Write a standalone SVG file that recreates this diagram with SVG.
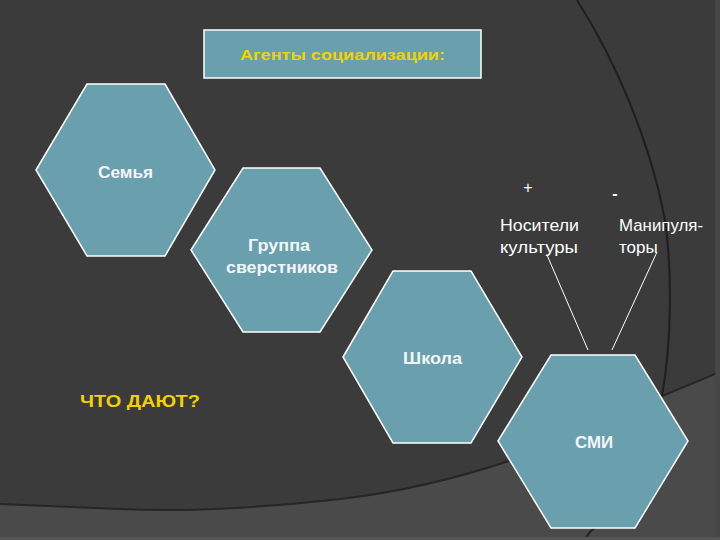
<svg xmlns="http://www.w3.org/2000/svg" width="720" height="540" viewBox="0 0 720 540">
<style>
.hex{fill:#6a9fae;stroke:#ffffff;stroke-width:1.5}
.lbl{font-family:"Liberation Sans",Arial,sans-serif;fill:#f2f6f8;text-anchor:middle}
.b{font-weight:bold}
.yel{font-family:"Liberation Sans",Arial,sans-serif;fill:#f2d200;font-weight:bold;text-anchor:middle}
.wt{font-family:"Liberation Sans",Arial,sans-serif;fill:#ffffff}
.conn{stroke:#ffffff;stroke-width:1;fill:none}
</style>
<g id="background">
<rect x="0" y="0" width="720" height="540" fill="#4a4a4a"/>
<path d="M0,0 H720 V372 L662,396 C620,414 580,435 540,450 C470,476 400,492 340,499 C260,508 180,512 120,509 C70,507 30,505 0,504 Z" fill="#3b3b3b"/>
<path d="M0,504 C30,505 70,507 120,509 C180,512 260,508 340,499 C400,492 470,476 540,450 C580,435 620,414 662,396 L720,372" fill="none" stroke="#262626" stroke-width="2"/>
<path d="M577,0 C615,60 650,140 665,220 C672,270 672,340 662,396" fill="none" stroke="#1f1f1f" stroke-width="2"/>
<path d="M585,540 C588,533 592,529 598,526" fill="none" stroke="#262626" stroke-width="2"/>
<rect x="715" y="0" width="5" height="540" fill="#474747"/>
<rect x="0" y="537" width="720" height="3" fill="#555555"/>
</g>
<g id="title">
<rect x="204" y="30" width="277" height="48" fill="#6a9fae" stroke="#ffffff" stroke-width="1.5"/>
<text class="yel" x="342.5" y="60" font-size="15" textLength="205" lengthAdjust="spacingAndGlyphs">Агенты социализации:</text>
</g>
<g id="connectors">
<line class="conn" x1="547" y1="255" x2="588" y2="350"/>
<line class="conn" x1="657" y1="252" x2="612" y2="350"/>
</g>
<g id="semya">
<polygon class="hex" points="36,170 87,84 165,84 215,170 165,256 87,256"/>
<text class="lbl b" x="125.5" y="178" font-size="16" textLength="55" lengthAdjust="spacingAndGlyphs">Семья</text>
</g>
<g id="gruppa">
<polygon class="hex" points="191,250 243,168 320,168 372,250 320,332 243,332"/>
<text class="lbl b" x="279" y="251" font-size="16" textLength="62" lengthAdjust="spacingAndGlyphs">Группа</text>
<text class="lbl b" x="282" y="273" font-size="16" textLength="112" lengthAdjust="spacingAndGlyphs">сверстников</text>
</g>
<g id="shkola">
<polygon class="hex" points="343,357 393,271 471,271 522,357 471,443 393,443"/>
<text class="lbl b" x="432.5" y="364" font-size="17" textLength="59" lengthAdjust="spacingAndGlyphs">Школа</text>
</g>
<g id="smi">
<polygon class="hex" points="498,441 551,355 635,355 688,441 635,528 551,528"/>
<text class="lbl b" x="594" y="448" font-size="16" textLength="38" lengthAdjust="spacingAndGlyphs">СМИ</text>
</g>
<g id="nositeli">
<text class="wt" x="528" y="193" font-size="16" text-anchor="middle">+</text>
<text class="wt" x="500" y="231" font-size="17" textLength="79" lengthAdjust="spacingAndGlyphs">Носители</text>
<text class="wt" x="500" y="253" font-size="17" textLength="78" lengthAdjust="spacingAndGlyphs">культуры</text>
</g>
<g id="manipulyatory">
<text class="wt" x="615" y="199" font-size="16" font-weight="bold" text-anchor="middle">-</text>
<text class="wt" x="619" y="231" font-size="17" textLength="84" lengthAdjust="spacingAndGlyphs">Манипуля-</text>
<text class="wt" x="619" y="253" font-size="17">торы</text>
</g>
<g id="chto-dayut">
<text class="yel" x="140" y="407" font-size="17" textLength="120" lengthAdjust="spacingAndGlyphs">ЧТО ДАЮТ?</text>
</g>
</svg>
